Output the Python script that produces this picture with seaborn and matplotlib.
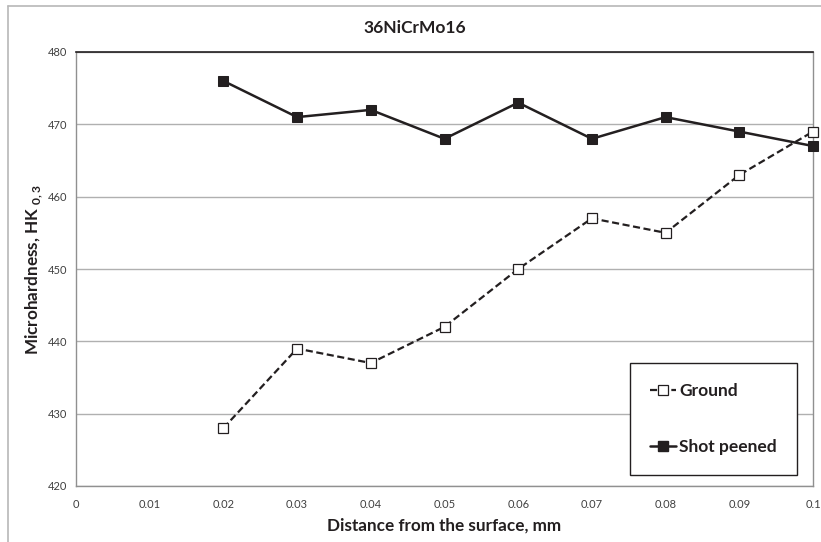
import pandas as pd
import seaborn as sns
import matplotlib.pyplot as plt
from matplotlib.lines import Line2D

# data
distance = [0.02, 0.03, 0.04, 0.05, 0.06, 0.07, 0.08, 0.09, 0.10]
ground = [428, 439, 437, 442, 450, 457, 455, 463, 469]
shot_peened = [476, 471, 472, 468, 473, 468, 471, 469, 467]
x_ticks = [0, 0.01, 0.02, 0.03, 0.04, 0.05, 0.06, 0.07, 0.08, 0.09, 0.1]
x_labels = ['0', '0.01', '0.02', '0.03', '0.04', '0.05', '0.06', '0.07', '0.08', '0.09', '0.1']
y_ticks = [420, 430, 440, 450, 460, 470, 480]

df = pd.DataFrame({
    'distance': distance * 2,
    'hardness': ground + shot_peened,
    'series': ['Ground'] * len(ground) + ['Shot peened'] * len(shot_peened),
})

sns.set_style('white')
plt.rcParams['font.family'] = ['Lato', 'DejaVu Sans']
plt.rcParams['mathtext.fontset'] = 'custom'
plt.rcParams['mathtext.rm'] = 'Lato'
plt.rcParams['mathtext.bf'] = 'Lato:bold'

ink = '#231f20'
fig = plt.figure(figsize=(8.21, 5.42), dpi=100)
ax = fig.add_axes([76 / 821, 1 - 486 / 542, (813 - 76) / 821, (486 - 52) / 542])

sns.lineplot(data=df[df.series == 'Ground'], x='distance', y='hardness', ax=ax,
             color=ink, linestyle=(0, (3.2, 1.6)), linewidth=1.6, marker='s',
             markersize=7, markerfacecolor='white', markeredgecolor=ink,
             markeredgewidth=0.9, clip_on=False, zorder=4)
sns.lineplot(data=df[df.series == 'Shot peened'], x='distance', y='hardness', ax=ax,
             color=ink, linewidth=1.8, marker='s', markersize=7,
             markerfacecolor=ink, markeredgecolor=ink, clip_on=False, zorder=5)

ax.set_xlim(0, 0.1)
ax.set_ylim(420, 480)
ax.set_xticks(x_ticks)
ax.set_xticklabels(x_labels)
ax.set_yticks(y_ticks)
ax.grid(axis='y', color='#b0b0b0', linewidth=1)
ax.tick_params(axis='both', labelsize=8, colors='#404040', length=0)
ax.tick_params(axis='y', pad=6)
ax.tick_params(axis='x', pad=9)
for side in ['left', 'bottom', 'right']:
    ax.spines[side].set_color('#909090')
    ax.spines[side].set_linewidth(1)
ax.spines['top'].set_color(ink)
ax.spines['top'].set_linewidth(1.2)

ax.set_xlabel('Distance from the surface, mm', fontsize=12.3, fontweight='bold',
              color=ink, labelpad=6)
ax.set_ylabel(r'Microhardness, HK $_{\mathbf{0,3}}$', fontsize=12.3, fontweight='bold',
              color=ink, labelpad=2)
fig.text(0.5 + 4 / 821, 1 - 28 / 542, '36NiCrMo16', ha='center', va='center',
         fontsize=12.5, fontweight='bold', color=ink)

handles = [
    Line2D([], [], color=ink, linestyle=(0, (3.2, 1.6)), linewidth=1.6, marker='s',
           markersize=7, markerfacecolor='white', markeredgecolor=ink, markeredgewidth=0.9),
    Line2D([], [], color=ink, linewidth=1.8, marker='s', markersize=7,
           markerfacecolor=ink, markeredgecolor=ink),
]
leg = ax.legend(handles, ['Ground', 'Shot peened'], loc='lower right',
                bbox_to_anchor=((797 - 76) / 737, (486 - 475) / 434),
                frameon=True, fancybox=False, framealpha=1, edgecolor=ink,
                prop={'weight': 'bold', 'size': 12.5}, handlelength=1.5,
                handletextpad=0.2, labelspacing=2.33, borderpad=1.15,
                borderaxespad=0)
leg.get_frame().set_linewidth(1)
for t in leg.get_texts():
    t.set_color(ink)

# outer chart frame (left and top edges)
fig.add_artist(Line2D([8 / 821, 8 / 821], [0, 1 - 6 / 542], color='#b8b8b8', linewidth=1.2))
fig.add_artist(Line2D([8 / 821, 1], [1 - 6 / 542, 1 - 6 / 542], color='#b8b8b8', linewidth=1.2))

plt.savefig('out.png', dpi=100)
